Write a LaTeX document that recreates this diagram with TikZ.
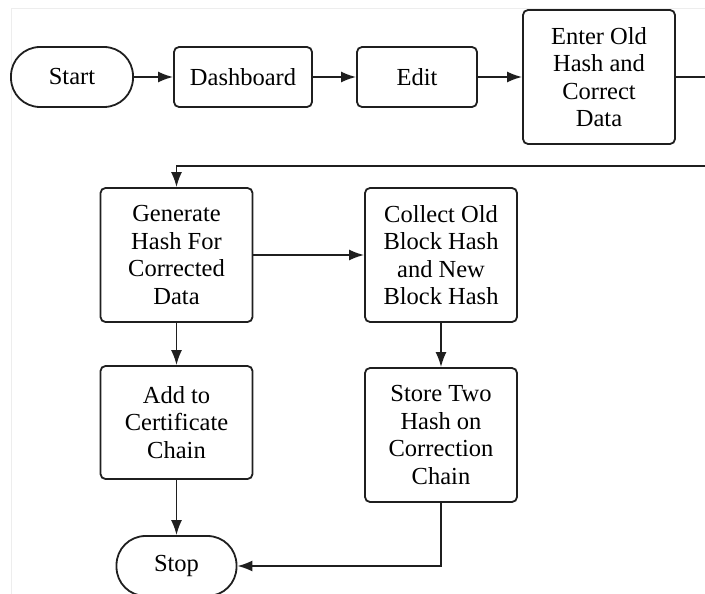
\documentclass[tikz,border=0pt]{standalone}
\usepackage{fontspec}
\setmainfont{Liberation Serif}
\usetikzlibrary{arrows.meta}

\begin{document}
\begin{tikzpicture}[x=1pt, y=-1pt,
    every node/.style={font=\fontsize{24.5}{27.5}\selectfont},
    box/.style={draw=black!88, line width=1.8pt, rounded corners=5pt,
      align=center, inner sep=0pt, minimum width=152pt, minimum height=134pt},
    term/.style={box, rounded corners=29pt, minimum width=120pt, minimum height=60pt},
    flow/.style={draw=black!88, line width=1.7pt, -{Latex[length=15pt,width=11pt]}}]

      \useasboundingbox (0, 0) rectangle (705, 594);
      \clip (0, 0) rectangle (705, 594);

      % faint page frame
      \draw [black!7, line width=0.8pt] (11.7, 600) -- (11.7, 8) -- (710, 8);

      % first row
      \node [term, minimum width=122pt] (start) at (72, 77) {Start};
      \node [box, minimum width=138pt, minimum height=60pt] (dash) at (243, 77) {Dashboard};
      \node [box, minimum width=120pt, minimum height=60pt] (edit) at (417, 77) {Edit};
      \node [box] (enter) at (599, 77) {Enter Old\\Hash and\\Correct\\Data};

      % second part
      \node [box] (gen) at (176.5, 255) {Generate\\Hash For\\Corrected\\Data};
      \node [box] (coll) at (441, 255) {Collect Old\\Block Hash\\and New\\Block Hash};
      \node [box, minimum height=113pt] (add) at (176.5, 422.5) {Add to\\Certificate\\Chain};
      \node [box] (store) at (441, 435) {Store Two\\Hash on\\Correction\\Chain};
      \node [term] (stop) at (176.5, 566) {Stop};

      \coordinate (turn) at (730, 166);

      \draw [flow] (start) -- (dash);
      \draw [flow] (dash) -- (edit);
      \draw [flow] (edit) -- (enter);
      \draw [flow] (enter.east) -| (turn) -| (gen.north);
      \draw [flow] (gen) -- (coll);
      \draw [flow] (gen) -- (add);
      \draw [flow] (coll) -- (store);
      \draw [flow] (add) -- (stop);
      \draw [flow] (store.south) |- (stop.east);

    \end{tikzpicture}
\end{document}
